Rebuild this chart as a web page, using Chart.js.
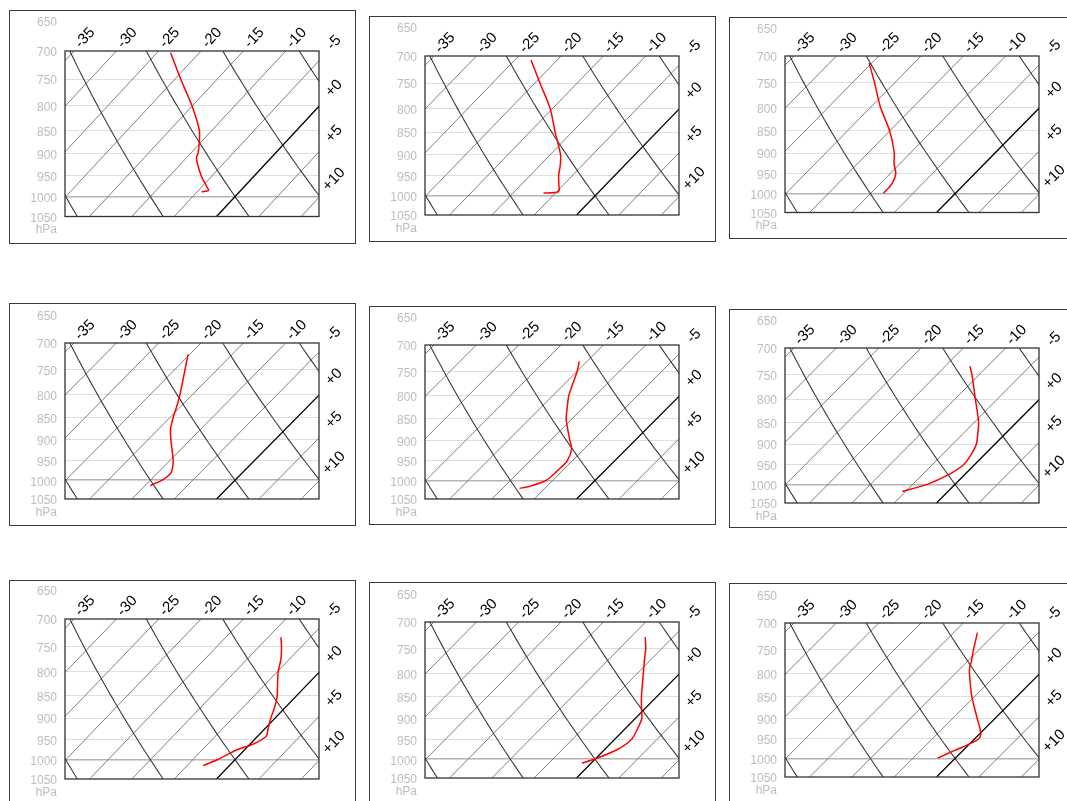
<!DOCTYPE html>
<html><head><meta charset="utf-8">
<script src="https://cdn.jsdelivr.net/npm/chart.js@4.4.1/dist/chart.umd.min.js"></script>
<style>
html,body{margin:0;padding:0;background:#fff;overflow:hidden;width:1067px;height:801px;position:relative;}
.panel{position:absolute;width:345px;border:1px solid #3a3a3a;background:#fff;}
.panel canvas{display:block;}
</style></head><body>
<script>
// ---- data ----
const pressureTicks = [650, 700, 750, 800, 850, 900, 950, 1000, 1050];
const isothermValues = [-35, -30, -25, -20, -15, -10, -5, 0, 5, 10];
const isothermLabels = [-35, -30, -25, -20, -15, -10, -5, 0, 5, 10];
const adiabatThetas = [-20, -10, 0, 10, 20];

const p1Pressure = [703, 750, 800, 850, 875, 900, 910, 950, 975, 985, 988];
const p1Temp     = [-23.4, -19.3, -15.1, -11.5, -10.2, -9.1, -8.8, -6.3, -4.5, -3.8, -4.5];
const p2Pressure = [707, 750, 800, 850, 900, 925, 950, 975, 985, 991, 993];
const p2Temp     = [-23.1, -19.4, -15.3, -12.0, -8.8, -7.6, -6.6, -5.4, -4.9, -4.9, -6.4];
const p3Pressure = [713, 750, 800, 850, 900, 925, 950, 975, 999];
const p3Temp     = [-25.3, -22.4, -18.8, -15.0, -11.9, -10.7, -9.3, -8.6, -8.5];
const p4Pressure = [721, 750, 800, 825, 850, 875, 900, 950, 969, 982, 999, 1014];
const p4Temp     = [-20.2, -18.8, -16.5, -15.5, -14.6, -13.6, -12.3, -9.6, -8.8, -8.4, -8.6, -9.4];
const p5Pressure = [731, 750, 800, 825, 850, 875, 900, 920, 950, 975, 1000, 1016, 1021];
const p5Temp     = [-15.9, -15.0, -13.1, -11.9, -10.7, -9.2, -7.7, -6.5, -5.6, -5.6, -5.8, -7.1, -8.0];
const p6Pressure = [734, 750, 800, 850, 875, 900, 925, 950, 975, 1000, 1019];
const p6Temp     = [-12.1, -10.9, -7.6, -4.5, -3.3, -2.2, -1.6, -1.3, -1.9, -3.3, -5.4];
const p7Pressure = [733, 750, 775, 800, 825, 850, 875, 900, 925, 942, 962, 975, 1000, 1015];
const p7Temp     = [-8.5, -7.4, -6.0, -4.9, -3.6, -2.3, -1.3, -0.5, 0.4, 1.0, 0.3, -0.9, -2.1, -3.1];
const p8Pressure = [728, 750, 775, 800, 850, 875, 900, 925, 950, 975, 1000, 1010];
const p8Temp     = [-8.3, -6.9, -5.6, -4.3, -1.8, -0.5, 0.8, 1.5, 2.0, 1.5, -0.1, -1.1];
const p9Pressure = [718, 750, 775, 787, 800, 850, 900, 931, 949, 966, 979, 999];
const p9Temp     = [-12.2, -10.7, -9.5, -9.0, -8.3, -5.3, -2.1, -0.2, 0.5, -0.2, -1.0, -2.1];

const soundings = [
  [p1Pressure, p1Temp], [p2Pressure, p2Temp], [p3Pressure, p3Temp],
  [p4Pressure, p4Temp], [p5Pressure, p5Temp], [p6Pressure, p6Temp],
  [p7Pressure, p7Temp], [p8Pressure, p8Temp], [p9Pressure, p9Temp]
];

// ---- layout (frame left, frame top, frame height, box top offset, box height) ----
const panelLayout = [
  {x: 9,   y: 10,  h: 234, boxTop: 41, boxH: 165.5},
  {x: 369, y: 16,  h: 226, boxTop: 40, boxH: 159},
  {x: 729, y: 17,  h: 222, boxTop: 39, boxH: 156.5},
  {x: 9,   y: 303, h: 223, boxTop: 40, boxH: 156},
  {x: 369, y: 306, h: 219, boxTop: 39, boxH: 154},
  {x: 729, y: 309, h: 219, boxTop: 39, boxH: 155},
  {x: 9,   y: 580, h: 228, boxTop: 39, boxH: 160},
  {x: 369, y: 582, h: 225, boxTop: 40, boxH: 156},
  {x: 729, y: 583, h: 223, boxTop: 40, boxH: 154}
];

const FONT = "'Liberation Sans', Arial, Helvetica, sans-serif";
Chart.defaults.font.family = FONT;

const P_AXIS_MIN = 650, P_TOP = 700, P_BOTTOM = 1050;
const X_MIN = -17.9, X_MAX = 12.1;
const SKEW = 44.8;
const RATIO = Math.log(P_TOP / P_AXIS_MIN) / Math.log(P_BOTTOM / P_TOP);

function skewX(t, p) { return t + SKEW * Math.log(P_BOTTOM / p); }

const skewDecor = {
  id: 'skewDecor',
  afterDatasetsDraw(chart) {
    const ctx = chart.ctx, a = chart.chartArea, xs = chart.scales.x, ys = chart.scales.y;
    const yT = ys.getPixelForValue(P_TOP), yB = ys.getPixelForValue(P_BOTTOM);
    ctx.save();
    ctx.strokeStyle = '#333333';
    ctx.lineWidth = 1.3;
    ctx.strokeRect(a.left, yT, a.right - a.left, yB - yT);
    const ang = Math.atan2(yT - yB,
      xs.getPixelForValue(skewX(0, P_TOP)) - xs.getPixelForValue(skewX(0, P_BOTTOM)));
    ctx.fillStyle = '#000';
    ctx.font = '15px ' + FONT;
    ctx.textAlign = 'center';
    ctx.textBaseline = 'middle';
    isothermLabels.forEach(t => {
      const txt = t >= 0 ? '+' + t : String(t);
      const xTop = skewX(t, P_TOP);
      let cx, cy;
      if (xTop <= X_MAX) {
        cx = xs.getPixelForValue(xTop) + 11;
        cy = yT - 13;
      } else {
        const p = P_BOTTOM * Math.exp(-(X_MAX - t) / SKEW);
        cx = a.right + 15;
        cy = ys.getPixelForValue(p) - 18;
      }
      ctx.save();
      ctx.translate(cx, cy);
      ctx.rotate(ang);
      ctx.fillText(txt, 0, 0);
      ctx.restore();
    });
    ctx.fillStyle = '#bdbdbd';
    ctx.font = '12px ' + FONT;
    ctx.textAlign = 'right';
    ctx.fillText('hPa', a.left - 8, yB + 13.5);
    ctx.restore();
  }
};

function buildDatasets(idx) {
  const ds = [];
  const [pres, temp] = soundings[idx];
  ds.push({
    data: pres.map((p, i) => ({x: skewX(temp[i], p), y: p})),
    borderColor: '#ff0000', borderWidth: 1.5, tension: 0.25, clip: 0
  });
  ds.push({
    data: [{x: skewX(0, P_BOTTOM), y: P_BOTTOM}, {x: skewX(0, P_TOP), y: P_TOP}],
    borderColor: '#000000', borderWidth: 1.3, clip: 0
  });
  adiabatThetas.forEach(th => {
    const pts = [];
    for (let p = P_TOP; p <= P_BOTTOM; p += 10) {
      const t = (th + 273.15) * Math.pow(p / 1000, 0.2857) - 273.15;
      pts.push({x: skewX(t, p), y: p});
    }
    ds.push({data: pts, borderColor: '#3a3a3a', borderWidth: 1.1, clip: 0});
  });
  isothermValues.filter(t => t !== 0).forEach(t => {
    ds.push({
      data: [{x: skewX(t, P_BOTTOM), y: P_BOTTOM}, {x: skewX(t, P_TOP), y: P_TOP}],
      borderColor: '#707070', borderWidth: 0.9, clip: 0
    });
  });
  return ds;
}

panelLayout.forEach((lay, idx) => {
  const div = document.createElement('div');
  div.className = 'panel';
  const innerH = lay.h - 2;
  div.style.left = lay.x + 'px';
  div.style.top = lay.y + 'px';
  div.style.height = innerH + 'px';
  const cv = document.createElement('canvas');
  cv.width = 345; cv.height = innerH;
  cv.style.width = '345px'; cv.style.height = innerH + 'px';
  div.appendChild(cv);
  document.body.appendChild(div);

  const areaTop = lay.boxTop - 1 - RATIO * lay.boxH;
  const padBottom = innerH - (lay.boxTop - 1 + lay.boxH);

  new Chart(cv.getContext('2d'), {
    type: 'line',
    data: {datasets: buildDatasets(idx)},
    options: {
      responsive: false,
      animation: false,
      devicePixelRatio: 1,
      events: [],
      layout: {padding: {left: 0, right: 36, top: areaTop, bottom: padBottom}},
      elements: {point: {radius: 0}, line: {fill: false}},
      plugins: {legend: {display: false}, tooltip: {enabled: false}},
      scales: {
        x: {type: 'linear', min: X_MIN, max: X_MAX, display: false},
        y: {
          type: 'logarithmic', reverse: true, min: P_AXIS_MIN, max: P_BOTTOM,
          afterBuildTicks: s => { s.ticks = pressureTicks.map(v => ({value: v})); },
          afterFit: s => { s.width = 55; s.paddingTop = 0; s.paddingBottom = 0; },
          border: {display: false},
          grid: {
            drawTicks: false,
            color: c => {
              const v = c.tick && c.tick.value;
              if (v === 650 || v === 700 || v === 1050) return 'rgba(0,0,0,0)';
              if (v === 1000) return '#b4b4b4';
              return '#dedede';
            },
            lineWidth: c => (c.tick && c.tick.value === 1000) ? 1.5 : 1
          },
          ticks: {
            autoSkip: false, padding: 8, labelOffset: 2,
            color: '#bdbdbd', font: {size: 12, family: FONT},
            callback: v => String(v)
          }
        }
      }
    },
    plugins: [skewDecor]
  });
});
</script>
</body></html>
